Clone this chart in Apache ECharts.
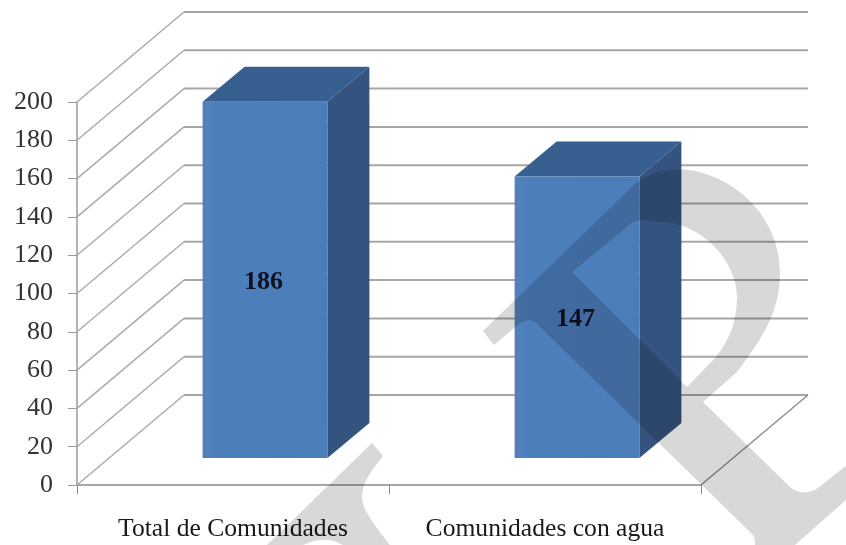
<!DOCTYPE html>
<html><head><meta charset="utf-8">
<style>html,body{margin:0;padding:0;background:#fff}#c{width:846px;height:545px;filter:blur(0.45px)}</style>
<script src="https://cdn.jsdelivr.net/npm/echarts@6/dist/echarts.min.js"></script>
</head><body><div id="c"></div>
<script>
const categories = ['Total de Comunidades', 'Comunidades con agua'];
const seriesValues = [186, 147];
const tickValues = [0, 20, 40, 60, 80, 100, 120, 140, 160, 180, 200];

const WALL = [107, -90], BAR_SHIFT = [32, -27], BAR_DEPTH = [42, -35], BAR_RATIO = 0.4;
const FONT = '"Liberation Serif"';
const WATERMARK = [
  'M483 331 L637 182 C655 170 672 168 690 170 C745 180 780 225 780 272 C780 310 765 335 737 372 L703 402 L790 487 C798 494 808 494 818 488 L843 468 L846 466 L846 500 L795 545 L755 545 C755 540 755 537 753 535 L535 322 C530 319 526 320 520 323 L494 345 Z M572 272 L687 387 L715 358 C730 340 737 320 737 297 C737 260 700 222 660 222 C650 222 642 218 633 222 Z',
  'M372 443 L383 456 C372 470 362 482 362 497 C362 510 378 530 390 545 L343 545 C330 538 318 538 303 545 L267 545 Z'
];
const chart = echarts.init(document.getElementById('c'), null, {renderer: 'canvas'});

function wallItem(params, api) {
  const cs = params.coordSys, p = api.coord([0, api.value(0)]);
  const x0 = cs.x, y = p[1], children = [];
  children.push({type: 'polyline', shape: {points: [[x0, y], [x0 + WALL[0], y + WALL[1]]]},
    style: {fill: null, stroke: '#a9a9a9', lineWidth: 1.4}});
  children.push({type: 'polyline', shape: {points: [[x0 + WALL[0], y + WALL[1]], [x0 + WALL[0] + cs.width, y + WALL[1]]]},
    style: {fill: null, stroke: '#a6a6a6', lineWidth: 2}});
  if (api.value(0) === 0) children.push({type: 'polyline',
    shape: {points: [[x0 + cs.width, y], [x0 + cs.width + WALL[0], y + WALL[1]]]},
    style: {fill: null, stroke: '#8c8c8c', lineWidth: 1.4}});
  return {type: 'group', children};
}
function barItem(params, api) {
  const i = api.value(0), v = api.value(1);
  const top = api.coord([i, v]), base = api.coord([i, 0]);
  const w = api.size([1, 0])[0] * BAR_RATIO;
  const l = top[0] - w / 2 + BAR_SHIFT[0], r = l + w;
  const t = top[1] + BAR_SHIFT[1], b = base[1] + BAR_SHIFT[1];
  const dx = BAR_DEPTH[0], dy = BAR_DEPTH[1];
  return {type: 'group', children: [
    {type: 'polygon', shape: {points: [[l, t], [l + dx, t + dy], [r + dx, t + dy], [r, t]]}, style: {fill: '#375f90'}},
    {type: 'polygon', shape: {points: [[r, t], [r + dx, t + dy], [r + dx, b + dy], [r, b]]}, style: {fill: '#34547f'}},
    {type: 'rect', shape: {x: l, y: t, width: w, height: b - t},
      style: {fill: new echarts.graphic.LinearGradient(0, 0, 1, 0, [
        {offset: 0, color: '#5581ba'}, {offset: 0.12, color: '#4d7fbd'}, {offset: 1, color: '#4c7dbb'}])}},
    {type: 'text', x: (l + r) / 2 - 1.5, y: (t + b) / 2 + 2, style: {text: String(v), fill: '#10131f',
      font: 'bold 26px ' + FONT, align: 'center', verticalAlign: 'middle'}}
  ]};
}
function watermarkItem(params, api) {
  return {type: 'path', shape: {pathData: WATERMARK[api.value(0)]},
    style: {fill: 'rgba(0,0,0,0.153)'}};
}

chart.setOption({
  animation: false,
  backgroundColor: '#ffffff',
  grid: {left: 77, right: 145, top: 102, bottom: 60},
  xAxis: {type: 'category', data: categories, boundaryGap: true,
    axisLine: {lineStyle: {color: '#8a8a8a', width: 1.5}},
    axisTick: {show: true, length: 9, alignWithLabel: false, lineStyle: {color: '#8a8a8a', width: 1}},
    axisLabel: {color: '#1a1a1a', fontFamily: FONT, fontSize: 25.6, margin: 31, interval: 0}},
  yAxis: {type: 'value', min: 0, max: 200, interval: 20,
    axisLine: {show: true, lineStyle: {color: '#9a9a9a', width: 1.5}},
    axisTick: {show: true, length: 9, lineStyle: {color: '#9a9a9a', width: 1}},
    splitLine: {show: false},
    axisLabel: {color: '#333333', fontFamily: FONT, fontSize: 26, margin: 24, padding: [10, 0, 0, 0],
      formatter: (v) => String(v)}},
  series: [
    {type: 'custom', name: 'walls', coordinateSystem: 'cartesian2d', clip: false, silent: true,
     data: tickValues.map(v => [v]), encode: {y: 0}, renderItem: wallItem, z: 1},
    {type: 'custom', name: 'Comunidades', coordinateSystem: 'cartesian2d', clip: false, silent: true,
     data: seriesValues.map((v, i) => [i, v]), encode: {x: 0, y: 1}, renderItem: barItem, z: 2},
    {type: 'custom', name: 'watermark', coordinateSystem: 'none', silent: true,
     data: WATERMARK.map((d, i) => [i]), renderItem: watermarkItem, z: 20}
  ]
});
</script></body></html>
